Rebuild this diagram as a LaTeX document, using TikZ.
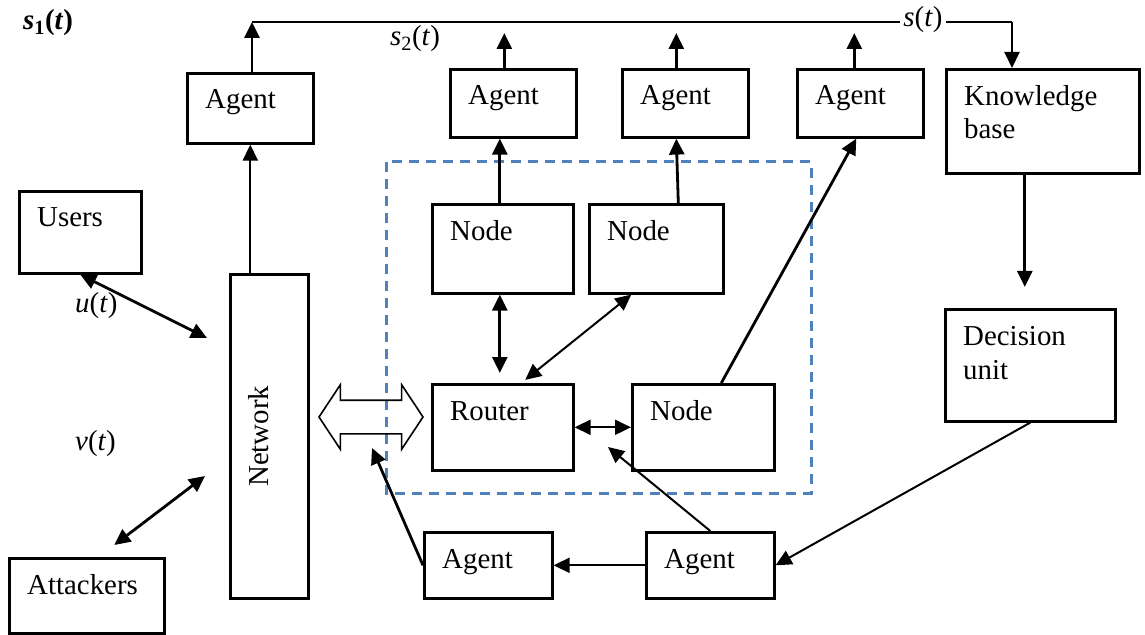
\documentclass[tikz,border=0pt]{standalone}
\usepackage{fontspec}
\setmainfont{Liberation Serif}
\usetikzlibrary{arrows.meta,shapes.arrows}
\definecolor{frameblue}{RGB}{79,129,189}
\newcommand{\sig}[1]{\textit{#1}}

\begin{document}
\begin{tikzpicture}[x=1bp, y=-1bp, >={Triangle[length=16bp,width=15bp]},
  every node/.style={font=\fontsize{29}{34}\selectfont},
  box/.style={draw, line width=2.6bp, inner sep=0pt, anchor=north west},
  lbl/.style={label={[inner sep=0pt, align=left, anchor=base west, xshift=19bp, yshift=-37bp]north west:#1}},
  lbltwo/.style={label={[inner sep=0pt, align=left, anchor=base west, xshift=19bp, yshift=-71bp]north west:#1}},
  agent/.style={box, minimum width=126bp, minimum height=68bp, lbl=Agent},
  wire/.style={line width=2.8bp},
  fine/.style={line width=2bp}]
  \useasboundingbox (0,0) rectangle (1145,635);

  % Boxes
  \node[agent, minimum height=70bp] (agA) at (186,72) {};
  \node[agent] (agB) at (449,68) {};
  \node[agent] (agC) at (621,68) {};
  \node[agent] (agD) at (796,68) {};
  \node[box, minimum width=193bp, minimum height=104bp, lbltwo={Knowledge\\base}] (kb) at (945,68) {};
  \node[box, minimum width=170bp, minimum height=112bp, lbltwo={Decision\\unit}] (dec) at (944,308) {};

  \node[box, minimum width=122bp, minimum height=82bp, lbl=Users] (users) at (18,190) {};
  \node[box, minimum width=155bp, minimum height=75bp, lbl=Attackers] (att) at (8,557) {};
  \node[box, minimum width=78bp, minimum height=324bp,
        label={[inner sep=0pt, rotate=90, anchor=base, yshift=11bp]center:Network}] (net) at (229,273) {};

  \node[box, minimum width=141bp, minimum height=89bp, lbl=Node] (nodeA) at (431,203) {};
  \node[box, minimum width=134bp, minimum height=89bp, lbl=Node] (nodeB) at (588,203) {};
  \node[box, minimum width=141bp, minimum height=86bp, lbl=Router] (router) at (431,383) {};
  \node[box, minimum width=142bp, minimum height=86bp, lbl=Node] (nodeC) at (631,383) {};

  \node[agent, minimum width=128bp, minimum height=66bp] (agE) at (423,531) {};
  \node[agent, minimum width=128bp, minimum height=66bp] (agF) at (645,531) {};

  % Network frame and gateway
  \draw[frameblue, line width=3bp, dash pattern=on 10bp off 7bp] (386,162) rectangle (811,493);
  \node[draw, line width=1.6bp, double arrow, minimum height=104bp, inner xsep=0pt, inner ysep=16bp,
        double arrow head extend=15.5bp, double arrow tip angle=113] (gate) at (371,417) {};

  % Signal line
  \coordinate (busL) at (252,22);
  \coordinate (busR) at (1012,22);
  \draw[fine] (busL) -- (busR);
  \draw[fine, ->] (busR) -- (busR |- kb.north);
  \draw[wire, ->] (busL |- agA.north) -- (busL);
  \draw[wire, ->, shorten >=11bp] ([xshift=-9bp]agB.north) -- ([xshift=-9bp]agB.north |- busL);
  \draw[wire, ->, shorten >=11bp] ([xshift=-9bp]agC.north) -- ([xshift=-9bp]agC.north |- busL);
  \draw[wire, ->, shorten >=11bp] ([xshift=-6bp]agD.north) -- ([xshift=-6bp]agD.north |- busL);

  % Labels
  \node[anchor=base west, inner sep=0pt] (sA) at (23,30) {\textbf{\textit{s}\textsubscript{1}(\textit{t})}};
  \node[anchor=base west, inner sep=0pt] (sB) at (390,46) {\sig{s}\textsubscript{2}(\sig{t})};
  \node[anchor=base, fill=white, inner xsep=3bp, inner ysep=0pt] (sC) at (923,27) {\sig{s}(\sig{t})};
  \node[anchor=base west, inner sep=0pt] (uT) at (75,313) {\sig{u}(\sig{t})};
  \node[anchor=base west, inner sep=0pt] (vT) at (75,450) {\sig{v}(\sig{t})};

  % Edges
  \coordinate (netU) at (207,338);
  \coordinate (netV) at (205,476);
  \draw[fine, ->] (agA.south |- net.north) -- (agA.south);
  \draw[wire, <->] (users.south) -- (netU);
  \draw[wire, <->] ([xshift=27.5bp, yshift=12bp]att.north) -- (netV);

  \draw[wire, ->] ([xshift=-3bp]nodeA.north) -- ([xshift=-3bp]nodeA.north |- agB.south);
  \draw[wire, ->] ([xshift=22bp]nodeB.north) -- ([xshift=-9bp]agC.south);
  \draw[wire, ->] ([xshift=18bp]nodeC.north) -- ([xshift=-4bp]agD.south);

  \draw[wire, <->, shorten >=10bp] ([xshift=-3bp]nodeA.south) -- ([xshift=-3bp]nodeA.south |- router.north);
  \draw[fine, <->, shorten >=5bp] ([xshift=-25bp]nodeB.south) -- ([xshift=18.5bp]router.north);
  \draw[fine, <->] (router.east) -- (nodeC.west);

  \draw[wire, ->, shorten >=21bp] ([xshift=-18bp]kb.south) -- ([xshift=-18bp]kb.south |- dec.north);
  \draw[fine, ->] (dec.south) -- (agF.east);
  \draw[fine, ->] (agF.west) -- (agE.east);

  \coordinate (nearRouter) at (608,447);
  \coordinate (nearGate) at (372,448);
  \draw[fine, ->] (agF.north) -- (nearRouter);
  \draw[wire, ->] (agE.west) -- (nearGate);
\end{tikzpicture}
\end{document}
